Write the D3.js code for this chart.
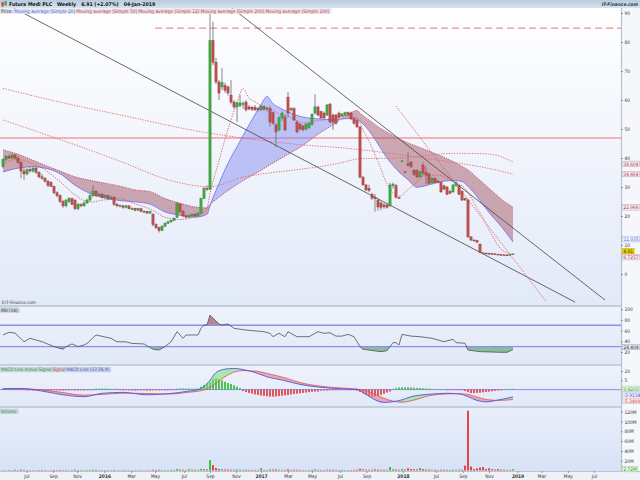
<!DOCTYPE html>
<html>
<head>
<meta charset="utf-8">
<script src="https://cdn.jsdelivr.net/npm/d3@7/dist/d3.min.js"></script>
<style>
html,body{margin:0;padding:0;background:#fff;}
svg{display:block;}
text{font-family:"Liberation Sans Narrow","DejaVu Sans Condensed","Liberation Sans",Arial,sans-serif;}
</style>
</head>
<body>
<svg id="chart" width="640" height="480"></svg>
<script>
// ================= DATA =================
const instrument = "Futura Medi PLC";
const period = "Weekly";
const lastQuote = "6.91 (+2.07%)";
const lastDate = "04-Jan-2019";

// weekly candles, index 0 = May 2015 ... index 170 = 04-Jan-2019
const open = [37,39.5,40.5,40,41,40,38.5,35.5,34.5,36,
35.5,36.5,35,33.5,33,32,31.5,30.2,28,27,
25,23.5,25,26,25.5,22.5,24,23.5,24.5,25.5,
27,28.5,27,27.5,26.5,27,26,26.5,24,23.5,
23.5,23,23.5,22.5,22.6,22,22.5,21.5,21.6,21,
20.5,17,16,15,16.5,17.5,18,18.5,19.5,24,
21.5,20,19.6,20,20.6,20,21,26,29.5,29.2,
80.5,73,66.2,64.5,65,64.5,61.7,59.3,57.6,58,
58.5,59.3,57.6,57.5,57.5,57,56.6,57.6,56.8,57,
55.6,51.4,49.7,53.8,54.1,61,57,57,52.4,51.7,
51,50,50.5,51.5,55.5,57.6,56,55.5,54.8,58.6,
54.8,54.8,55.5,54.5,54.8,55.6,55.5,53.5,53,50.7,
33.4,30.7,29.5,27.5,26.5,25.5,24.5,23.8,23.8,23.5,
30.5,30.5,26.3,39,35.2,38,38.6,35.8,35.8,33.5,
37.5,35,34.5,31.6,33,32,31.5,30.4,30,28.5,
28.3,30.5,30.5,28.5,26,25.5,12.8,11.7,11.5,10.3,
7.3,7.2,7.1,7,6.95,6.8,6.7,6.6,6.55,6.5,6.77];
const high = [39.8,41,41.2,41.5,41.5,40.5,39,36.5,36.5,37,
37,37,35.5,34.5,33.5,32.5,32,30.5,28.5,27.5,
25.5,25.8,26.5,26.3,25.8,24.5,24.3,25,26,27.5,
30.5,29,28,28,27.5,27.3,27,26.8,24.5,24,
23.8,23.8,23.6,23,22.8,22.8,22.6,22,21.8,21.8,
21,17.5,16.3,16.8,17.8,18.3,18.8,19.5,24.8,24.5,
22,20.6,20.4,20.9,21,21.3,26.3,30,30.5,90,
87,74.5,67,71,66,65,66.9,60,59.5,61.7,
59.5,60,58.2,58,58.3,57.5,58.2,58.2,57.5,58,
56,52,54.5,56,55,62.8,57.5,57.5,53,52,
51.5,52,52.3,55.5,62,58,56.3,56,58.5,59,
55.3,55.2,56,55.5,56,56,56,54,53.5,51,
33.8,31,30.8,28,27.5,26,25,24.5,24.2,31.5,
31.5,31,26.5,39.2,35.4,42,39,36.2,36,35.6,
38.5,37,35,33.3,33.2,32.5,32,30.8,30.3,29,
31,32,30.8,28.8,26.3,26,13,12,11.8,10.5,
7.5,7.4,7.3,7.2,7.1,7,6.9,6.8,6.8,6.9,7.1];
const low = [36.5,39,39.6,39.5,39.5,38,33,32.5,34,35,
35,34.5,33,32.5,31.5,30,30,27.5,26.5,24.5,
22.8,23,24.5,23.8,22,22,23,23.2,24.2,25,
26.5,26.5,26.5,26,26,25.5,25.5,23.5,23,23,
22.5,22.6,22.3,22,21.6,21.8,21.3,21,20.8,20.8,
16.5,15.5,14.3,14.8,16.2,17.2,17.6,18.2,19.3,21,
19.6,19.2,19.3,19.8,19.8,19.9,20.8,25.8,28.6,29,
72,65.5,60,63.4,62.5,61.5,58.5,57,52.4,57.5,
57,56,56.5,56.2,56.2,56,56.2,56.3,56,50.8,
51.5,43.8,49.2,52.8,49.2,54,56,52.8,48.5,49.5,
49.2,49.5,50,51.2,55,54.5,53.5,53.5,54.5,52,
49.7,51.5,53.5,54,54.5,54.5,53,51.5,50.5,33,
30.5,28.5,28.2,25.5,21.5,21.8,22,22.5,22.5,23.2,
29.5,26,26,38.8,35,37,36.5,33.8,33,33.2,
34,31,31,31.2,31.3,31.3,28,29,27.2,27.5,
28,30,27.2,25.2,25.3,12.5,11.5,11.2,10.6,7.1,
7.1,7,6.9,6.8,6.7,6.6,6.5,6.4,6.3,6.4,6.6];
const close = [39.5,40.5,40,41,40,38.5,35.5,34.5,36,35.5,
36.5,35,33.5,33,32,30.5,30.2,28,27,25,
23.5,25.5,26,24,22.5,24,23.5,24.5,25.5,27,
28.5,27,27.5,26.5,27,26,26.5,24,23.5,23.6,
23,23.5,22.5,22.6,22,22.5,21.5,21.6,21,21.5,
17,16,15,16.5,17.5,18,18.5,19.2,24.3,21.5,
20,19.6,20.1,20.6,20.1,21,26,29.5,29.2,80.5,
73,66.2,62.4,66,63.4,62.4,59.3,57.6,59,59,
58.8,56.6,56.9,56.8,56.6,56.6,57.9,56.8,57.2,52.4,
52,49,53.8,55.5,49.7,55.5,56.6,53.1,49,50,
49.7,51.7,52,55,57.6,54.8,53.8,53.8,58.3,52.4,
52.4,52,54,55.2,55.6,55,53.5,52,50.7,33.4,
30.7,29,28.8,26.2,26,23.1,23,23.2,23,30.7,
31,26.5,26.2,39,35.1,37.5,37,34.3,33.5,35.2,
34.8,34.2,31.3,33,31.5,31.6,28.3,29.3,27.5,27.8,
30.7,31.5,27.5,25.5,25.5,12.8,11.7,11.5,11,7.4,
7.2,7.1,7,6.95,6.8,6.7,6.6,6.55,6.5,6.77,6.91];
// volume in millions
const volume = [1.2,0.8,1,0.9,1.5,0.8,1.8,1.2,0.9,1,
0.8,0.7,0.9,1.3,0.8,0.6,0.9,1.1,0.8,1.2,
1,1.4,0.9,0.8,1.6,1,0.8,0.9,1.2,1.4,
1.8,1.3,0.9,0.8,1,0.9,0.8,1.2,0.7,0.8,
0.9,0.8,0.7,0.8,0.7,0.9,0.8,0.7,0.8,0.9,
1.6,1.2,1.4,1.2,1,1.1,1.6,1.3,3.2,2,
1.5,1.2,2.8,2,1.4,1.6,3.2,2.8,2.2,21,
11,5,3,2.5,2,1.8,1.6,1.5,2.2,1.8,
1.6,1.5,1.2,1.4,1.3,1.1,4.5,1.2,1.3,2,
1.8,2.2,1.6,1.4,1.5,2.8,1.3,1.5,1.6,1.2,
1.1,1,1.2,1.5,2.3,1.4,1.1,1,1.8,1.6,
1.4,1.2,1.1,1.2,1,1,1.1,1.3,1.5,3.5,
2.2,1.6,1.4,1.5,2.4,2,1.5,1.4,1.3,7,
2.5,2,1.4,3,2,4.5,3,2.5,2.2,5,
2.8,2,1.8,1.6,1.5,1.2,1.6,1.4,1.3,1.2,
1.8,1.6,1.5,1.7,10,122,8,3,4.5,6,
7,3,4.5,2.5,2,3,1.8,1.5,1.2,1.4,2.72];

// moving averages (index, value)
const maIdx = [0,5,10,14,19,24,29,34,39,44,49,54,59,64,68,69,70,72,74,76,78,80,82,84,86,88,90,92,95,100,105,110,115,118,119,120,122,125,128,132,135,138,140,145,150,153,155,158,160,163,166,170];
const sma20 = [35.2,36.5,37,36.5,34.6,30.6,27.8,26.2,25.3,24.9,24.1,21.4,20.3,19.6,20.6,23.5,26.3,31.2,36,40.2,43.9,47.7,51.4,55,58.4,61.2,58.7,57.4,55.9,54.1,53.5,53.2,53.6,53.5,52.6,51.7,49.4,44.8,40,35.2,32.5,29.9,30.2,31.6,32.3,31.9,30.2,26.7,23.9,20,16.5,11.035];
const sma50 = [42.8,41.3,39.2,37.5,35.5,33.5,32.3,31.3,30.3,29,28.4,26,24.4,23.1,22.8,24,24.9,26.5,28.1,29.5,30.9,32.2,33.4,34.6,35.8,37.1,38.3,39.5,41.3,44.4,48.2,51.5,55,56.4,55.4,54.6,53.1,50.8,48.9,46.6,45.2,44,43.2,41.1,38.8,37.1,35.9,33.2,31.4,28.6,25.9,22.966];
const sma12 = [38.2,39.5,38,35.9,31.9,27.3,24.8,25.6,26,24.2,22.4,19.6,18.8,19.7,22.6,27.7,31.8,39,46.5,53.2,59,64,60.6,59.4,58.1,57.5,56.5,55.2,54.4,52.2,52.9,53.5,54.6,53.7,52,49.7,45.8,38.7,31.2,26.8,29.1,31.8,33.8,34.1,31.7,30.4,28.2,22.7,19.2,13.4,8.6,6.7257];
const sma100Idx = [0,20,40,55,69,80,90,99,112,118,120,130,140,150,160,165,170];
const sma100 = [53.1,46,38.5,32.5,30.1,33.4,35,36.1,38.2,39.6,39.8,39.9,40.7,41.6,41.5,40.8,38.604];
const sma200Idx = [0,18,43,61,79,100,112,130,150,160,170];
const sma200 = [64,59.5,54,50,47,44.5,43.6,41.5,38.5,36.8,34.464];

// drawn lines (index, price)
const blackTrendLines = [[-1,94.2,190.7,-9.7],[74,93.6,200.7,-9]];
const redTrendLine = [131,57.9,181,-9.4];
const solidLevel = 46.9;
const dashedLevel = 84.8, dashedFromIdx = 50.7;

// RSI (14)
const rsiIdx = [0,2,4,7,9,11,13,17,20,21,23,25,27,28,31,36,38,41,43,47,50,52,54,56,58,60,61,65,66,67,68,69,72,73,75,77,81,87,89,90,92,94,95,98,102,105,107,109,111,113,115,117,119,120,126,128,130,131,132,133,136,139,143,147,150,151,154,155,159,166,168,170];
const rsiVal = [51.8,56.8,55.5,39.2,45.6,42.4,39.2,30,25,30,35,30,33,36,51.8,45.6,39,39,36,35,25,23.6,30,39,58,45.6,51.8,51.8,64.3,70.5,70.5,89,72.5,70.5,72.5,64.3,61,58,55,48.6,55,48.6,58,48.6,48.6,58,55,56,49.7,49.7,53,48.6,30,25,20.5,22.4,37.4,37.4,33,53,49.7,48.6,45.6,39.2,43.7,37.4,36.3,23.6,20.5,19.3,19.3,24.404];

// MACD (12,26,9)
const macdIdx = [0,6,12,20,27,33,40,48,55,62,66,69,71,74,77,80,84,88,94,99,106,112,118,120,122,125,127,130,133,136,143,148,152,155,158,161,165,170];
const macdLine = [0.5,0.6,-0.5,-2.8,-3.8,-2,-1.5,-2.8,-2.2,-0.8,0.5,5,9.2,11,11.4,10.8,9.2,6.9,4.8,2.8,1.2,0.5,0,-1.5,-3.6,-6.2,-6.9,-6.5,-5.5,-3.8,-2.4,-2,-2.3,-3.8,-5.8,-6.6,-5.6,-3.9134];
const macdSignal = [0.2,0.4,0,-1.6,-3,-2.6,-1.9,-2.1,-2.4,-1.4,-0.6,1.2,3.5,6.9,9.4,10.2,10,8.7,6.3,3.8,1.8,0.9,0.3,-0.3,-1.1,-3.3,-4.7,-6.2,-6.8,-6,-3,-2.3,-2.2,-2.6,-4,-5.3,-5.8,-5.3409];
const macdHist = [0.6,0.6,0.6,0.6,0.6,0.6,0.6,
-0.3,-0.4,-0.4,-0.5,-0.4,-0.4,-0.3,-0.4,-0.5,-0.5,-0.4,-0.4,-0.5,-0.5,-0.4,-0.4,-0.3,-0.4,-0.5,-0.4,-0.4,-0.3,-0.3,-0.3,
0.5,0.5,0.6,0.5,0.5,0.4,0.4,0.4,
-0.3,-0.4,-0.4,-0.4,-0.4,-0.5,-0.4,-0.4,-0.4,-0.5,-0.5,-0.4,-0.4,-0.4,-0.3,-0.4,-0.4,-0.3,-0.3,
0.5,0.6,0.6,0.6,0.6,0.5,0.5,0.6,
1.5,2.5,3.2,3.8,5.5,6.1,5.6,5,4.2,3.5,3,2.3,1.6,0.8,
-0.8,-1.3,-1.8,-2.2,-2.6,-2.9,-3.2,-3.4,-3.6,-3.8,-3.8,-3.7,-3.5,-3.3,-3.1,-2.9,-2.6,-2.4,-2.2,-2,-1.8,-1.6,-1.4,-1.2,-1.1,-1,
-0.6,-0.5,-0.5,-0.4,-0.4,-0.4,-0.3,-0.3,-0.3,-0.3,-0.3,-0.3,
-0.6,-1.2,-2,-2.8,-3.5,-3.8,-3.7,-3.3,-2.8,-2.2,-1.6,-1,
0.4,0.8,1.1,1.2,1.2,1.2,1.1,1,0.9,0.8,0.7,0.6,0.5,0.4,0.3,0.3,0.2,0.1,
-0.2,-0.3,-0.3,-0.3,-0.3,-0.4,
-0.8,-1.4,-1.9,-1.9,-1.8,-1.7,-1.5,-1.3,-1.1,-0.9,-0.7,-0.5,-0.3,
0.2,0.3,0.4,0.4203];

// axes
const priceTicks = [0,10,20,30,40,50,60,70,80,90];
const rsiTicks = [20,40,60,80,100];
const macdTicks = [5,10];
const volTicks = [20,40,60,80,100,120];
const xTickIdx = [7.8,16.7,24.7,33.8,42.7,50.7,60.3,69,77.7,86,95,103,112.3,121.2,133.3,144.3,153.3,162,171.5,179.5,188.3,197];
const xTickLabels = ["Jul","Sep","Nov","2016","Mar","May","Jul","Sep","Nov","2017","Mar","May","Jul","Sep","2018","Jul","Sep","Nov","2019","Mar","May","Jul"];
const legendItems = [["Price:","#222"],["Moving average (Simple 20)","#4a62f0"],["Moving average (Simple 50)","#d23030"],["Moving average (Simple 12)","#d23030"],["Moving average (Simple 200)","#d23030"],["Moving average (Simple 100)","#d23030"]];

// ================= DRAW =================
const svg = d3.select('#chart');
const defs = svg.append('defs');
function lg(id, c1, c2){
  const g = defs.append('linearGradient').attr('id',id).attr('x1',0).attr('y1',0).attr('x2',0).attr('y2',1);
  g.append('stop').attr('offset','0%').attr('stop-color',c1);
  g.append('stop').attr('offset','100%').attr('stop-color',c2);
}
lg('gHead','#b7cbde','#d6e2ee');
lg('gPrice','#ffffff','#e2e9f8');
lg('gSub','#eef2fb','#e1e8f8');
lg('gVol','#e9eefa','#d8e2f6');

const PR = 621;
const panels = {price:[8,305], rsi:[307,364], macd:[366,406], vol:[408,471]};

svg.append('rect').attr('width',640).attr('height',480).attr('fill','#f2f5f9');
svg.append('rect').attr('x',0).attr('y',0).attr('width',640).attr('height',8).attr('fill','url(#gHead)');
const bgFill = {price:'url(#gPrice)', rsi:'url(#gSub)', macd:'url(#gSub)', vol:'url(#gVol)'};
Object.entries(panels).forEach(([k,[a,b]])=>{
  svg.append('rect').attr('x',0).attr('y',a).attr('width',PR).attr('height',b-a).attr('fill',bgFill[k]);
  defs.append('clipPath').attr('id','clip_'+k).append('rect').attr('x',0).attr('y',a).attr('width',PR).attr('height',b-a);
});
[[305,2],[364,2],[406,2]].forEach(([y,h])=>svg.append('rect').attr('x',0).attr('y',y).attr('width',640).attr('height',h).attr('fill','#c5cfdc'));
svg.append('rect').attr('x',0).attr('y',471).attr('width',640).attr('height',9).attr('fill','#eef1f6');
svg.append('line').attr('x1',0).attr('x2',640).attr('y1',471.5).attr('y2',471.5).attr('stroke','#b9c5d3');
svg.append('rect').attr('x',PR).attr('y',8).attr('width',640-PR).attr('height',463).attr('fill','#f5f7fa');
svg.append('line').attr('x1',PR+0.5).attr('x2',PR+0.5).attr('y1',8).attr('y2',471).attr('stroke','#b5c3d3').attr('stroke-width',1.2);

// scales
const x = d3.scaleLinear().domain([0,170]).range([3,513]);
const yP = d3.scaleLinear().domain([0,90]).range([274,13]);
const yR = d3.scaleLinear().domain([0,100]).range([362.6,309.3]);
const yM = d3.scaleLinear().domain([0,10]).range([389.6,371]);
const yV = d3.scaleLinear().domain([0,120]).range([470.5,411.7]);
const curve = d3.curveMonotoneX;

// ---------- PRICE PANEL ----------
const gP = svg.append('g').attr('clip-path','url(#clip_price)');
gP.append('line').attr('x1',0).attr('x2',PR).attr('y1',yP(solidLevel)).attr('y2',yP(solidLevel))
  .attr('stroke','#f07272').attr('stroke-width',1);
gP.append('line').attr('x1',x(dashedFromIdx)).attr('x2',PR).attr('y1',yP(dashedLevel)).attr('y2',yP(dashedLevel))
  .attr('stroke','#f28c8c').attr('stroke-width',1.2).attr('stroke-dasharray','7,4');

const band = maIdx.map((d,k)=>({i:d,a:sma20[k],b:sma50[k]}));
defs.append('clipPath').attr('id','cAbove').append('path')
  .attr('d', d3.area().curve(curve).x(d=>x(d.i)).y0(0).y1(d=>yP(d.b))(band));
defs.append('clipPath').attr('id','cBelow').append('path')
  .attr('d', d3.area().curve(curve).x(d=>x(d.i)).y0(480).y1(d=>yP(d.b))(band));
const bandArea = d3.area().curve(curve).x(d=>x(d.i)).y0(d=>yP(d.b)).y1(d=>yP(d.a));
gP.append('g').attr('clip-path','url(#cAbove)').append('path').attr('d',bandArea(band)).attr('fill','#7d82ee').attr('fill-opacity',0.45);
gP.append('g').attr('clip-path','url(#cBelow)').append('path').attr('d',bandArea(band)).attr('fill','#993b4c').attr('fill-opacity',0.42);

const maLine = d3.line().curve(curve).x(d=>x(d[0])).y(d=>yP(d[1]));
function drawMA(idxArr, vals, color, dash, w){
  gP.append('path').attr('d', maLine(idxArr.map((d,k)=>[d,vals[k]])))
    .attr('fill','none').attr('stroke',color).attr('stroke-width',w).attr('stroke-dasharray',dash);
}
drawMA(sma200Idx, sma200, '#e06a6a', '1.3,1.3', 0.9);
drawMA(sma100Idx, sma100, '#e06a6a', '1.3,1.3', 0.9);
drawMA(maIdx, sma12, '#e05a5a', '1.3,1.3', 0.9);
drawMA(maIdx, sma50, '#c04a5a', '1.3,1.0', 0.9);
drawMA(maIdx, sma20, '#6c6cf0', null, 0.8);

blackTrendLines.forEach(t=>{
  gP.append('line').attr('x1',x(t[0])).attr('y1',yP(t[1])).attr('x2',x(t[2])).attr('y2',yP(t[3]))
    .attr('stroke','#444').attr('stroke-width',0.8);
});
gP.append('line').attr('x1',x(redTrendLine[0])).attr('y1',yP(redTrendLine[1])).attr('x2',x(redTrendLine[2])).attr('y2',yP(redTrendLine[3]))
  .attr('stroke','#e05a5a').attr('stroke-width',0.9).attr('stroke-dasharray','1.3,1.3');

const idx = d3.range(close.length);
const up = i => close[i] >= open[i];
gP.selectAll('line.wick').data(idx).join('line').attr('class','wick')
  .attr('x1',i=>x(i)).attr('x2',i=>x(i)).attr('y1',i=>yP(high[i])).attr('y2',i=>yP(low[i]))
  .attr('stroke','#6a6a6a').attr('stroke-width',0.8);
gP.selectAll('rect.body').data(idx).join('rect').attr('class','body')
  .attr('x',i=>x(i)-1.1).attr('width',2.2)
  .attr('y',i=>Math.min(yP(open[i]),yP(close[i])))
  .attr('height',i=>Math.max(0.8,Math.abs(yP(open[i])-yP(close[i]))))
  .attr('fill',i=>up(i)?'#3fae3f':'#c65050')
  .attr('stroke',i=>up(i)?'#2b7a2b':'#8a3030').attr('stroke-width',0.4);

// ---------- RSI PANEL ----------
const gR = svg.append('g').attr('clip-path','url(#clip_rsi)');
const rsiData = rsiIdx.map((d,k)=>({i:d,v:rsiVal[k]}));
defs.append('clipPath').attr('id','cR70').append('rect').attr('x',0).attr('y',panels.rsi[0]).attr('width',PR).attr('height',yR(70)-panels.rsi[0]);
defs.append('clipPath').attr('id','cR30').append('rect').attr('x',0).attr('y',yR(30)).attr('width',PR).attr('height',panels.rsi[1]-yR(30));
gR.append('g').attr('clip-path','url(#cR70)').append('path')
  .attr('d', d3.area().x(d=>x(d.i)).y0(yR(70)).y1(d=>yR(d.v))(rsiData)).attr('fill','#a04a5a').attr('fill-opacity',0.65);
gR.append('g').attr('clip-path','url(#cR30)').append('path')
  .attr('d', d3.area().x(d=>x(d.i)).y0(yR(30)).y1(d=>yR(d.v))(rsiData)).attr('fill','#4f9f5f').attr('fill-opacity',0.6);
[70,30].forEach(l=>gR.append('line').attr('x1',0).attr('x2',PR).attr('y1',yR(l)).attr('y2',yR(l)).attr('stroke','#8d8fe8').attr('stroke-width',1.4));
gR.append('path').attr('d', d3.line().x(d=>x(d.i)).y(d=>yR(d.v))(rsiData)).attr('fill','none').attr('stroke','#505050').attr('stroke-width',0.8);

// ---------- MACD PANEL ----------
const gM = svg.append('g').attr('clip-path','url(#clip_macd)');
gM.append('line').attr('x1',0).attr('x2',PR).attr('y1',yM(0)).attr('y2',yM(0)).attr('stroke','#8d8fe8').attr('stroke-width',1);
gM.selectAll('rect.h').data(idx).join('rect').attr('class','h')
  .attr('x',i=>x(i)-0.9).attr('width',1.8)
  .attr('y',i=>Math.min(yM(0),yM(macdHist[i]))).attr('height',i=>Math.max(0.6,Math.abs(yM(macdHist[i])-yM(0))))
  .attr('fill',i=>macdHist[i]>=0?'#3cbf3c':'#e04848');
const mData = macdIdx.map((d,k)=>({i:d,a:macdLine[k],b:macdSignal[k]}));
defs.append('clipPath').attr('id','cMAbove').append('path')
  .attr('d', d3.area().curve(curve).x(d=>x(d.i)).y0(0).y1(d=>yM(d.b))(mData));
defs.append('clipPath').attr('id','cMBelow').append('path')
  .attr('d', d3.area().curve(curve).x(d=>x(d.i)).y0(480).y1(d=>yM(d.b))(mData));
const mArea = d3.area().curve(curve).x(d=>x(d.i)).y0(d=>yM(d.b)).y1(d=>yM(d.a));
gM.append('g').attr('clip-path','url(#cMAbove)').append('path').attr('d',mArea(mData)).attr('fill','#7fe07f').attr('fill-opacity',0.6);
gM.append('g').attr('clip-path','url(#cMBelow)').append('path').attr('d',mArea(mData)).attr('fill','#e07f8a').attr('fill-opacity',0.6);
gM.append('path').attr('d', d3.line().curve(curve).x(d=>x(d.i)).y(d=>yM(d.b))(mData)).attr('fill','none').attr('stroke','#e05050').attr('stroke-width',0.8);
gM.append('path').attr('d', d3.line().curve(curve).x(d=>x(d.i)).y(d=>yM(d.a))(mData)).attr('fill','none').attr('stroke','#5555e6').attr('stroke-width',0.9);

// ---------- VOLUME PANEL ----------
const gV = svg.append('g').attr('clip-path','url(#clip_vol)');
gV.selectAll('rect.v').data(idx).join('rect').attr('class','v')
  .attr('x',i=>x(i)-1).attr('width',2)
  .attr('y',i=>yV(volume[i])).attr('height',i=>yV(0)-yV(volume[i]))
  .attr('fill',i=>up(i)?'#3cbf3c':'#e04848');

// ---------- AXES ----------
function styleAxis(g, size){
  g.select('.domain').remove();
  g.selectAll('line').attr('stroke','#666').attr('stroke-width',0.6);
  g.selectAll('text').attr('font-size',size).attr('fill','#333');
  return g;
}
const axP = styleAxis(svg.append('g').attr('transform',`translate(${PR},0)`).call(d3.axisRight(yP).tickValues(priceTicks).tickSize(2).tickPadding(1.5).tickFormat(d3.format('d'))),4.8);
const axR = styleAxis(svg.append('g').attr('transform',`translate(${PR},0)`).call(d3.axisRight(yR).tickValues(rsiTicks).tickSize(2).tickPadding(1.5).tickFormat(d3.format('d'))),4.8);
const axM = styleAxis(svg.append('g').attr('transform',`translate(${PR},0)`).call(d3.axisRight(yM).tickValues(macdTicks).tickSize(2).tickPadding(1.5).tickFormat(d3.format('d'))),4.8);
const axV = styleAxis(svg.append('g').attr('transform',`translate(${PR},0)`).call(d3.axisRight(yV).tickValues(volTicks).tickSize(2).tickPadding(1.5).tickFormat(d=>d+'M')),4.8);
const gX = svg.append('g').attr('transform','translate(0,471)')
  .call(d3.axisBottom(x).tickValues(xTickIdx).tickSize(2).tickPadding(1.2).tickFormat((d,k)=>xTickLabels[k]));
styleAxis(gX,4.9);
gX.selectAll('text').attr('font-weight',(d,k)=>/^\d{4}$/.test(xTickLabels[k])?'bold':'normal');

// value boxes on the right scale (kept clear of the tick labels)
function valueBoxes(items, gap, axG, scale){
  items.sort((a,b)=>a.y-b.y);
  for(let pass=0;pass<4;pass++){
    for(let k=1;k<items.length;k++){
      const d = gap-(items[k].y-items[k-1].y);
      if(d>0){items[k-1].y-=d/2; items[k].y+=d/2;}
    }
  }
  const ticks = axG.selectAll('.tick').nodes().map(n=>({n, y:scale(d3.select(n).datum())}));
  items.forEach(it=>{
    ticks.forEach(t=>{
      const d = it.y - t.y;
      if(Math.abs(d) < 5.8){
        const need = 5.8 - Math.abs(d);
        if(need <= 3.6) it.y += (d>=0?1:-1)*need;
        else d3.select(t.n).select('text').remove();
      }
    });
  });
  items.forEach(it=>{
    const g = svg.append('g');
    const t = g.append('text').attr('x',PR+2.5).attr('y',it.y+1.7).attr('font-size',4.8).attr('fill',it.color).text(it.text);
    const w = t.node().getComputedTextLength();
    g.insert('rect','text').attr('x',PR+1.5).attr('y',it.y-2.7).attr('width',w+2).attr('height',5.4)
      .attr('fill',it.fill).attr('stroke',it.stroke).attr('stroke-width',0.5);
  });
}
const last = a => a[a.length-1];
valueBoxes([
  {y:yP(last(sma100)),text:String(last(sma100)),color:'#c83030',fill:'#eef1f7',stroke:'#c9a0a8'},
  {y:yP(last(sma200)),text:String(last(sma200)),color:'#c83030',fill:'#eef1f7',stroke:'#c9a0a8'},
  {y:yP(last(sma50)),text:String(last(sma50)),color:'#c83030',fill:'#eef1f7',stroke:'#c9a0a8'},
  {y:yP(last(sma20)),text:String(last(sma20)),color:'#4a62f0',fill:'#eef1f7',stroke:'#a8b0e8'},
  {y:yP(last(close)),text:String(last(close)),color:'#222',fill:'#f2d000',stroke:'#c8a800'},
  {y:yP(last(sma12)),text:String(last(sma12)),color:'#c83030',fill:'#eef1f7',stroke:'#c9a0a8'}
],6,axP,yP);
valueBoxes([{y:yR(last(rsiVal)),text:String(last(rsiVal)),color:'#333',fill:'#e4e9f2',stroke:'#9aa6b8'}],6,axR,yR);
valueBoxes([
  {y:yM(last(macdHist)),text:String(last(macdHist)),color:'#2a9a2a',fill:'#e6f4e6',stroke:'#9ac89a'},
  {y:yM(last(macdLine)),text:String(last(macdLine)),color:'#4a4ae0',fill:'#eceef9',stroke:'#a8aee0'},
  {y:yM(last(macdSignal)),text:String(last(macdSignal)),color:'#d04040',fill:'#f6ecee',stroke:'#e0a8b0'}
],5.2,axM,yM);
valueBoxes([{y:yV(last(volume)),text:last(volume)+'M',color:'#2a9a2a',fill:'#e6f4e6',stroke:'#9ac89a'}],6,axV,yV);

// ---------- HEADER / LEGENDS ----------
svg.append('rect').attr('x',1.5).attr('y',2).attr('width',2.2).attr('height',4.5).attr('fill','#d04040');
svg.append('rect').attr('x',4.5).attr('y',1).attr('width',2.2).attr('height',4.5).attr('fill','#40a040');
const ttl = svg.append('text').attr('x',9).attr('y',6.2).attr('font-size',5.2).attr('font-weight','bold').attr('fill','#111');
ttl.append('tspan').text(instrument);
ttl.append('tspan').attr('dx',5).text(period);
ttl.append('tspan').attr('dx',5).text(lastQuote);
ttl.append('tspan').attr('dx',5).text(lastDate);
svg.append('text').attr('x',638).attr('y',5.6).attr('text-anchor','end').attr('font-size',4.8).attr('font-weight','bold').attr('font-style','italic').attr('fill','#2c3e55').text('IT-Finance.com');

const legBg = svg.append('rect').attr('x',0).attr('y',8.3).attr('height',5.6).attr('fill','#e3e7ee');
let lx = 1;
legendItems.forEach(([t,c])=>{
  const el = svg.append('text').attr('x',lx).attr('y',12.6).attr('font-size',4.8).attr('fill',c).text(t);
  lx += el.node().getComputedTextLength()+1.2;
});
legBg.attr('width',lx+1);

svg.append('text').attr('x',1).attr('y',303.8).attr('font-size',4.6).attr('fill','#333').text('\u00A9IT-Finance.com');

function panelLabel(y, parts){
  const bg = svg.append('rect').attr('x',0).attr('y',y-4.3).attr('height',5.4).attr('fill','#c8d3df');
  let px = 1;
  parts.forEach(([t,c])=>{
    const el = svg.append('text').attr('x',px).attr('y',y).attr('font-size',4.6).attr('fill',c).text(t);
    px += el.node().getComputedTextLength()+1.2;
  });
  bg.attr('width',px+1);
}
panelLabel(311.7,[['RSI (14)','#333']]);
panelLabel(371.2,[['MACD Line minus Signal','#2a9a2a'],['Signal','#d04040'],['MACD Line (12,26,9)','#4a4ae0']]);
panelLabel(413,[['Volume','#2a9a2a']]);
</script>
</body>
</html>
